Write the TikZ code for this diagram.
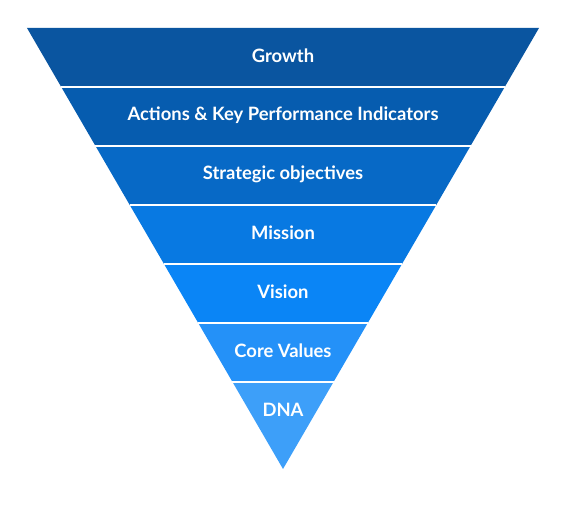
\documentclass[tikz,border=0pt]{standalone}
\usepackage{fontspec}
\setmainfont{Lato}
\usetikzlibrary{positioning}
\definecolor{growthBlue}{HTML}{0A55A0}
\definecolor{actionsBlue}{HTML}{065CAF}
\definecolor{strategyBlue}{HTML}{0769C6}
\definecolor{missionBlue}{HTML}{0879E2}
\definecolor{visionBlue}{HTML}{0A85F6}
\definecolor{valuesBlue}{HTML}{2491F8}
\definecolor{dnaBlue}{HTML}{3D9FF9}

\begin{document}
\begin{tikzpicture}[
    x=0.75pt,y=-0.75pt,
    every node/.style={font=\bfseries\fontsize{13.8}{15}\selectfont},
    lab/.style={text=white,inner sep=1pt},
    sep/.style={draw=white,line width=0.9pt}
  ]
  \useasboundingbox (0,0) rectangle (564,509);
  %% the inverted pyramid, one band per level
  \foreach \col/\yt/\yb in {growthBlue/28/87, actionsBlue/87/146,
      strategyBlue/146/205, missionBlue/205/264, visionBlue/264/323,
      valuesBlue/323/382, dnaBlue/382/469} {
    \pgfmathsetmacro\wt{0.58050*(469-\yt)}
    \pgfmathsetmacro\wb{0.58050*(469-\yb)}
    \fill[\col] (283-\wt,\yt) -- (283+\wt,\yt) -- (283+\wb,\yb) -- (283-\wb,\yb) -- cycle;
  }
  %% white separators between the bands
  \foreach \y in {87,146,205,264,323,382} {
    \pgfmathsetmacro\w{0.58050*(469-\y)}
    \draw[sep] (283-\w,\y) -- (283+\w,\y);
  }
  %% labels
  \node[lab] (growth)    at (283,56)  {Growth};
  \node[lab] (actions)   at (283,115) {Actions \& Key Performance Indicators};
  \node[lab] (strategic) at (283,174) {Strategic objectives};
  \node[lab] (mission)   at (283,233) {Mission};
  \node[lab] (vision)    at (283,292) {Vision};
  \node[lab] (values)    at (283,351) {Core Values};
  \node[lab] (dna)       at (283,410) {DNA};
\end{tikzpicture}
\end{document}
